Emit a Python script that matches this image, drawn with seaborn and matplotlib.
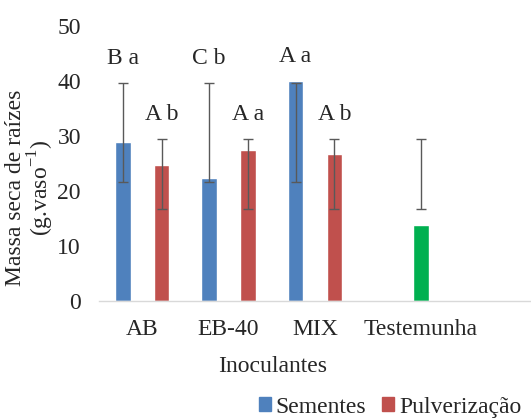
import pandas as pd
import matplotlib.pyplot as plt
import seaborn as sns
from matplotlib.patches import Patch

# values
inoculantes = ['AB', 'EB-40', 'MIX', 'Testemunha']
sementes = [29.0, 22.3, 40.0]
pulverizacao = [24.7, 27.4, 26.7]
testemunha = [13.8]

# error bar ends (low, high) per bar
sem_low = [21.6, 21.6, 21.6]
sem_high = [39.6, 39.6, 39.6]
pul_low = [16.7, 16.7, 16.7, 16.7]
pul_high = [29.4, 29.4, 29.4, 29.4]

letras_sem = ['B a', 'C b', 'A a']
letras_pul = ['A b', 'A a', 'A b']

azul, vermelho, verde = '#4F81BD', '#C0504D', '#00B050'

rows = []
for i, nome in enumerate(inoculantes[:3]):
    rows.append((nome, 'Sementes', sementes[i]))
    rows.append((nome, 'Pulverização', pulverizacao[i]))
rows.append(('Testemunha', 'Pulverização', testemunha[0]))
df = pd.DataFrame(rows, columns=['Inoculante', 'Aplicacao', 'Massa'])

sns.set_style('white')
plt.rcParams['font.family'] = ['Liberation Serif', 'DejaVu Serif']
plt.rcParams['mathtext.fontset'] = 'custom'
plt.rcParams['mathtext.rm'] = 'Liberation Serif'
fs = 17

fig = plt.figure(figsize=(5.31, 4.19), dpi=100)
ax = fig.add_axes([99 / 531, 1 - 301 / 419, 1 - 99 / 531, 275 / 419])

sns.barplot(data=df, x='Inoculante', y='Massa', hue='Aplicacao', order=inoculantes,
            hue_order=['Sementes', 'Pulverização'], palette=[azul, vermelho],
            saturation=1, width=0.9, gap=0.6, errorbar=None, legend=False, ax=ax)

# green control bar
ax.containers[1][-1].set_facecolor(verde)

for cont, lows, highs, letras in [(ax.containers[0], sem_low, sem_high, letras_sem),
                                  (ax.containers[1], pul_low, pul_high, letras_pul)]:
    for j, bar in enumerate(cont):
        xc = bar.get_x() + bar.get_width() / 2
        lo, hi = lows[j], highs[j]
        ax.errorbar(xc, (lo + hi) / 2, yerr=(hi - lo) / 2, fmt='none',
                    ecolor='#595959', elinewidth=1, capsize=3.6, capthick=1, zorder=5)
        if j < len(letras):
            top = max(hi, bar.get_height())
            ax.text(xc, top + 2.6, letras[j], ha='center', va='bottom', fontsize=fs)

ax.set_ylim(0, 50)
ax.set_xlim(-0.5, 4.5)
ax.set_yticks(range(0, 51, 10))
green_x = ax.containers[1][-1].get_x() + ax.containers[1][-1].get_width() / 2
ax.set_xticks([0, 1, 2, green_x])
ax.set_xticklabels(inoculantes)
ax.tick_params(axis='both', length=0, labelsize=fs)
ax.tick_params(axis='y', pad=13)
ax.tick_params(axis='x', pad=13)

for s in ['top', 'right', 'left']:
    ax.spines[s].set_visible(False)
ax.spines['bottom'].set_color('#D9D9D9')
ax.spines['bottom'].set_linewidth(1)

ax.set_xlabel('Inoculantes', fontsize=fs)
ax.xaxis.set_label_coords((273 - 99) / 432, -0.2)
ax.set_ylabel('Massa seca de raízes\n(g.vaso$^{\\mathregular{-1}}$)', fontsize=fs, linespacing=1.0)
ax.yaxis.set_label_coords((56 - 99) / 432, 0.41)

handles = [Patch(color=azul, label='Sementes'), Patch(color=vermelho, label='Pulverização')]
fig.legend(handles=handles, loc='center', bbox_to_anchor=(390 / 531, 1 - 407 / 419),
           ncol=2, frameon=False, fontsize=fs, handlelength=0.5, handleheight=0.5,
           handletextpad=0.2, columnspacing=0.7, borderpad=0)

fig.savefig('out.png', dpi=100)
